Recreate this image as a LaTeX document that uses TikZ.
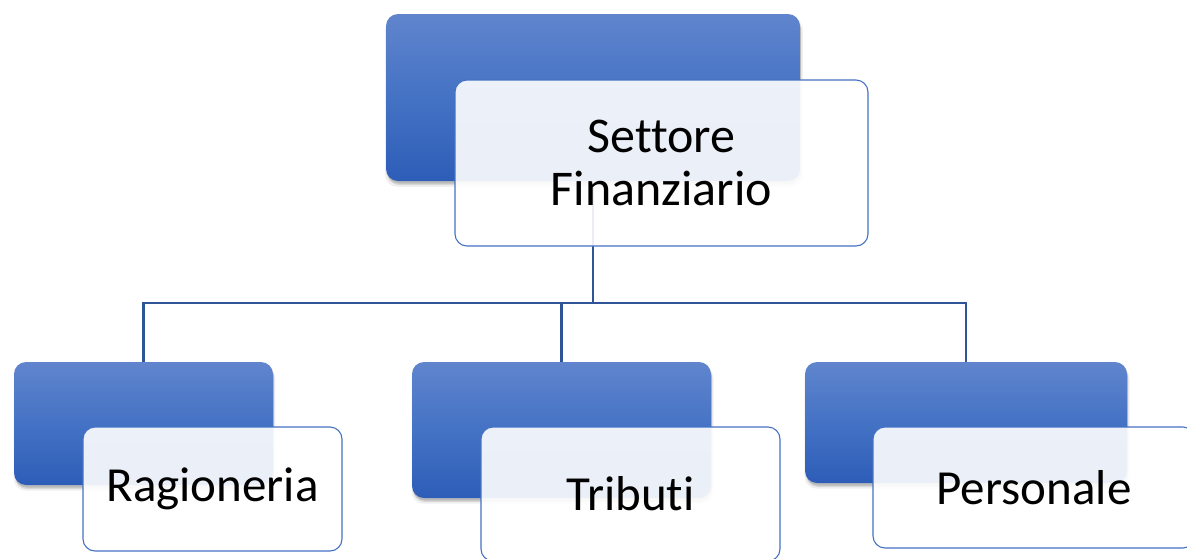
\documentclass[tikz,border=0pt]{standalone}
\usepackage{fontspec}
\setmainfont{Carlito}[Ligatures=NoCommon]
\usetikzlibrary{shadows}
\definecolor{btop}{HTML}{6085CD}
\definecolor{bmid}{HTML}{4472C4}
\definecolor{bbot}{HTML}{2E5DB8}
\definecolor{edgec}{HTML}{4472C4}
\definecolor{connc}{HTML}{2F5597}
\begin{document}
\begin{tikzpicture}[x=1pt,y=-1pt,
  bluebox/.style={rectangle,rounded corners=12pt,inner sep=0pt,
    top color=btop,bottom color=bbot,middle color=bmid,
    general shadow={shadow xshift=1pt,shadow yshift=-5pt,shadow scale=1.01,fill=black,opacity=.06},
    general shadow={shadow xshift=1pt,shadow yshift=-4pt,fill=black,opacity=.10},
    general shadow={shadow xshift=1pt,shadow yshift=-2.5pt,fill=black,opacity=.14}},
  whitebox/.style={rectangle,rounded corners=12pt,inner sep=0pt,
    draw=edgec,line width=1.1pt,fill=white,fill opacity=0.9,text opacity=1,
    align=center,text=black},
  connector/.style={draw=connc,line width=2.2pt}]
\useasboundingbox (0,0) rectangle (1187,558);
% blue back boxes
\node[bluebox,minimum width=414pt,minimum height=167pt] (b0) at (593,97.5) {};
\node[bluebox,minimum width=259pt,minimum height=123pt] (b1) at (143.5,423.5) {};
\node[bluebox,minimum width=299pt,minimum height=136pt] (b2) at (561.5,430) {};
\node[bluebox,minimum width=322pt,minimum height=121pt] (b3) at (966,422.5) {};
% connectors
\coordinate (bus) at (0,303);
\draw[connector] (b0.south) -- (b0.south |- bus);
\draw[connector] (b1.north) -- (b1.north |- bus) -| (b3.north);
\draw[connector] (b2.north) -- (b2.north |- bus);
% white front boxes
\node[whitebox,minimum width=413pt,minimum height=166pt,font=\fontsize{50}{53}\selectfont] (w0) at (661.5,163) {Settore\\Finanziario};
\node[whitebox,minimum width=259pt,minimum height=124pt,font=\fontsize{49}{53}\selectfont] (w1) at (212.5,489) {Ragioneria};
\node[whitebox,minimum width=299pt,minimum height=134pt,font=\fontsize{49}{53}\selectfont] (w2) at (630.5,494) {Tributi};
\node[whitebox,minimum width=322pt,minimum height=121pt,font=\fontsize{49}{53}\selectfont] (w3) at (1034,487.5) {Personale};
\end{tikzpicture}
\end{document}
